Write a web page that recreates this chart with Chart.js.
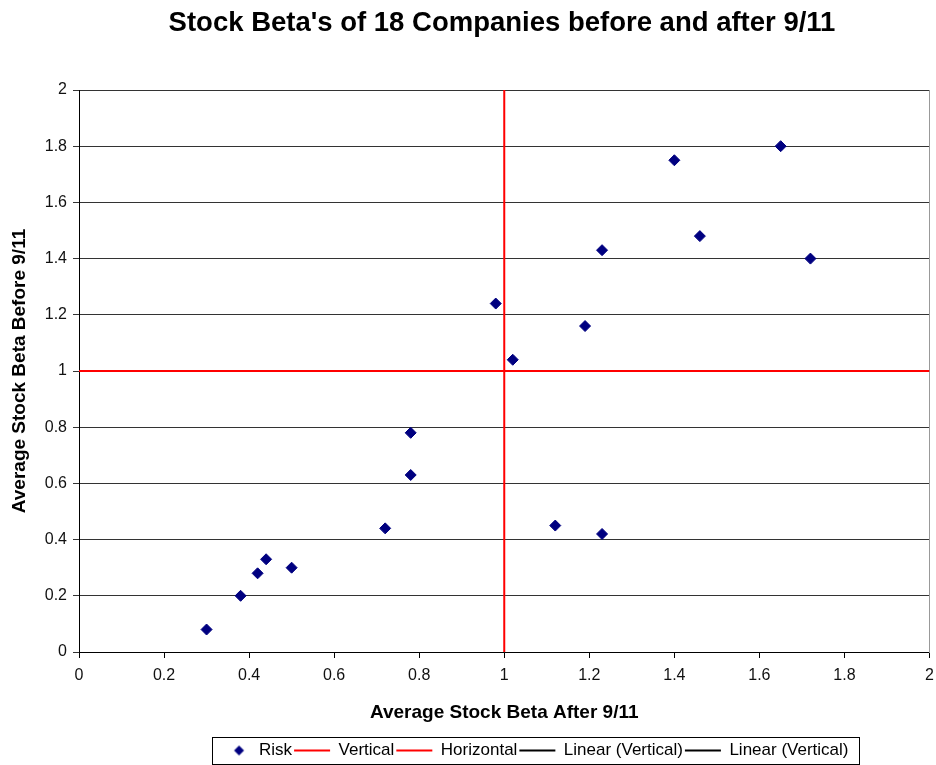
<!DOCTYPE html>
<html>
<head>
<meta charset="utf-8">
<script src="https://cdn.jsdelivr.net/npm/chart.js@4/dist/chart.umd.min.js"></script>
<style>
  html, body { margin: 0; padding: 0; background: #fff; }
  #wrap { width: 936px; height: 765px; }
</style>
</head>
<body>
<div id="wrap"><canvas id="betaChart" width="936" height="765"></canvas></div>
<script>
// beta after 9/11 (x) and before 9/11 (y) for the 18 companies
const betaAfter  = [1.40, 1.65, 1.46, 1.23, 1.72, 0.98, 1.19, 1.02, 0.78, 0.78, 0.72, 1.12, 1.23, 0.44, 0.42, 0.50, 0.38, 0.30];
const betaBefore = [1.75, 1.80, 1.48, 1.43, 1.40, 1.24, 1.16, 1.04, 0.78, 0.63, 0.44, 0.45, 0.42, 0.33, 0.28, 0.30, 0.20, 0.08];

// reference lines at beta = 1
const verticalX = [1, 1];
const verticalY = [0, 2];
const horizontalX = [0, 2];
const horizontalY = [1, 1];

const seriesNames = ["Risk", "Vertical", "Horizontal", "Linear (Vertical)", "Linear (Vertical)"];
const axisMin = 0, axisMax = 2, axisStep = 0.2;

const font = "Arial, 'Liberation Sans', sans-serif";

function toPoints(xs, ys) {
  return xs.map((x, i) => ({ x: x, y: ys[i] }));
}

function tickText(v) {
  return String(Math.round(v * 10) / 10);
}

// small diamond icon for the legend (line icons are wider)
const diamondIcon = document.createElement("canvas");
diamondIcon.width = 40;
diamondIcon.height = 14;
(function () {
  const c = diamondIcon.getContext("2d");
  c.fillStyle = "#000080";
  c.beginPath();
  c.moveTo(26.5, 2); c.lineTo(31.5, 7); c.lineTo(26.5, 12); c.lineTo(21.5, 7);
  c.closePath();
  c.fill();
})();

// draws a frame round the legend items
const legendFrame = {
  id: "legendFrame",
  afterDraw(chart) {
    const boxes = chart.legend && chart.legend.legendHitBoxes;
    if (!boxes || !boxes.length) return;
    let l = Infinity, r = -Infinity, t = Infinity, b = -Infinity;
    boxes.forEach(h => {
      l = Math.min(l, h.left); r = Math.max(r, h.left + h.width);
      t = Math.min(t, h.top); b = Math.max(b, h.top + h.height);
    });
    const mid = (t + b) / 2;
    const ctx = chart.ctx;
    ctx.save();
    ctx.strokeStyle = "#000";
    ctx.lineWidth = 1;
    ctx.strokeRect(Math.round(l - 3) + 0.5, Math.round(mid - 14) + 0.5, Math.round(r - l + 13), 27);
    ctx.restore();
  }
};

// title and legend sit a bit right of the canvas centre, as in the original
const shiftBlocks = {
  id: "shiftBlocks",
  afterLayout(chart) {
    if (chart.titleBlock) chart.titleBlock.left = 73;
    if (chart.legend) {
      chart.legend.left += 66;
      chart.legend.right += 66;
      chart.legend.top += 4;
      chart.legend.bottom += 4;
    }
  }
};

const ctx = document.getElementById("betaChart").getContext("2d");
const chart = new Chart(ctx, {
  type: "scatter",
  data: {
    datasets: [
      {
        label: seriesNames[0],
        data: toPoints(betaAfter, betaBefore),
        pointStyle: "rectRot",
        pointRadius: 5.5,
        backgroundColor: "#000080",
        borderColor: "#000080",
        borderWidth: 1
      },
      {
        label: seriesNames[1],
        type: "line",
        data: toPoints(verticalX, verticalY),
        borderColor: "#ff0000",
        backgroundColor: "#ff0000",
        borderWidth: 2,
        pointRadius: 0,
        pointStyle: "line"
      },
      {
        label: seriesNames[2],
        type: "line",
        data: toPoints(horizontalX, horizontalY),
        borderColor: "#ff0000",
        backgroundColor: "#ff0000",
        borderWidth: 2,
        pointRadius: 0,
        pointStyle: "line"
      },
      {
        label: seriesNames[3],
        type: "line",
        data: [],
        borderColor: "#000",
        backgroundColor: "#000",
        borderWidth: 2,
        pointRadius: 0,
        pointStyle: "line"
      },
      {
        label: seriesNames[4],
        type: "line",
        data: [],
        borderColor: "#000",
        backgroundColor: "#000",
        borderWidth: 2,
        pointRadius: 0,
        pointStyle: "line"
      }
    ]
  },
  options: {
    responsive: false,
    animation: false,
    layout: { padding: { left: 0, right: 5, top: 0, bottom: 0 } },
    plugins: {
      title: {
        display: true,
        text: "Stock Beta's of 18 Companies before and after 9/11",
        color: "#000",
        font: { family: font, size: 27.5, weight: "bold" },
        padding: { top: 6.5, bottom: 50.5 }
      },
      legend: {
        position: "bottom",
        labels: {
          usePointStyle: true,
          pointStyleWidth: 36,
          color: "#000",
          font: { family: font, size: 17 },
          padding: 2,
          generateLabels(chart) {
            const items = Chart.defaults.plugins.legend.labels.generateLabels(chart);
            items.forEach(it => {
              if (it.datasetIndex === 0) it.pointStyle = diamondIcon;
              it.lineWidth = 2;
            });
            return items;
          }
        }
      },
      tooltip: { enabled: false }
    },
    scales: {
      x: {
        type: "linear",
        min: axisMin,
        max: axisMax,
        afterFit(scale) {
          scale.height = 84;
          scale.paddingLeft = 0;
          scale.paddingRight = 0;
        },
        ticks: {
          stepSize: axisStep,
          color: "#111",
          font: { family: font, size: 16 },
          padding: 8,
          callback: tickText
        },
        grid: {
          drawOnChartArea: false,
          drawTicks: true,
          tickLength: 6,
          color: "#000"
        },
        border: { color: "#000", width: 1 },
        title: {
          display: true,
          text: "Average Stock Beta After 9/11",
          color: "#000",
          font: { family: font, size: 19, weight: "bold" },
          padding: { top: 0, bottom: 12 }
        }
      },
      y: {
        type: "linear",
        min: axisMin,
        max: axisMax,
        afterFit(scale) { scale.width = 79; },
        ticks: {
          stepSize: axisStep,
          color: "#111",
          font: { family: font, size: 16 },
          padding: 6,
          callback: tickText
        },
        grid: {
          color: "#333",
          lineWidth: 1,
          tickLength: 6
        },
        border: { color: "#000", width: 1 },
        title: {
          display: true,
          text: "Average Stock Beta Before 9/11",
          color: "#000",
          font: { family: font, size: 19, weight: "bold" },
          padding: { top: 8, bottom: 0 }
        }
      },
      // only draws the grey right edge of the plot area
      yRight: {
        type: "linear",
        position: "right",
        min: axisMin,
        max: axisMax,
        afterFit(scale) { scale.width = 0; },
        ticks: { display: false },
        grid: { drawOnChartArea: false, drawTicks: false },
        border: { color: "#999", width: 1 }
      }
    }
  },
  plugins: [legendFrame, shiftBlocks]
});
</script>
</body>
</html>
